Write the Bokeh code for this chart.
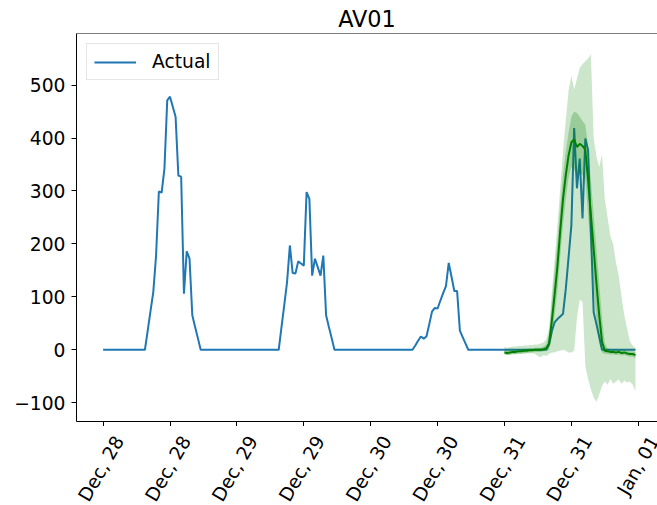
import math
import pandas as pd
from bokeh.plotting import figure
from bokeh.layouts import column
from bokeh.models import (Range1d, DatetimeAxis, FixedTicker,
                          Legend, LegendItem, Span, ColumnDataSource)
from bokeh.core.properties import value
from bokeh.embed import file_html
from bokeh.resources import INLINE

# ---------------- data (30-minute steps) ----------------
actual_start = "2022-12-28 00:00"
forecast_start = "2022-12-31 00:00"
step = "30min"

actual_dec28 = [0, 0, 0, 0, 0, 0, 0, 0, 0, 0, 0, 0, 0, 0, 0, 0,
                36, 73, 109, 178, 299, 297, 342, 471, 478, 459, 440, 329, 327, 106, 186, 172, 65, 43, 22,
                0, 0, 0, 0, 0, 0, 0, 0, 0, 0, 0, 0, 0]
actual_dec29 = [0, 0, 0, 0, 0, 0, 0, 0, 0, 0, 0, 0, 0, 0, 0, 0,
                43, 85, 128, 197, 145, 144, 167, 163, 159, 298, 285, 140, 172, 156, 140, 178, 65, 43, 22,
                0, 0, 0, 0, 0, 0, 0, 0, 0, 0, 0, 0, 0]
actual_dec30 = [0, 0, 0, 0, 0, 0, 0, 0, 0, 0, 0, 0, 0, 0, 0, 0,
                8, 17, 25, 21, 25, 48, 72, 79, 78, 93, 107, 120, 164, 138, 111, 111, 36, 24, 12,
                0, 0, 0, 0, 0, 0, 0, 0, 0, 0, 0, 0, 0]
actual_dec31 = [0, 0, 0, 0, 0, 0, 0, 0, 0, 0, 0, 0, 0, 0, 0, 0,
                10, 35, 52, 58, 63, 68, 115, 175, 235, 419, 305, 361, 248, 399, 377, 224, 71, 48, 24,
                0, 0, 0, 0, 0, 0, 0, 0, 0, 0, 0, 0, 0]

forecast_median = [-5, -6, -5, -4, -4, -3, -3, -2, -2, -1, -1, 0, 0, 0, 1, 3,
                   12, 55, 105, 158, 225, 285, 330, 367, 392, 397, 383, 389, 385, 378,
                   320, 255, 190, 125, 65, 15, -2, -3, -4, -4, -5, -4, -6, -5, -7, -8, -8, -10]
inner_high = [-1, -2, -1, 0, 0, 1, 1, 2, 2, 3, 3, 4, 4, 4, 6, 10,
              30, 90, 150, 205, 270, 330, 375, 410, 440, 450, 447, 440, 432, 425,
              385, 320, 255, 190, 125, 60, 12, 3, 1, 0, 0, 0, -1, -1, -2, -3, -3, -4]
inner_low = [-9, -10, -9, -8, -8, -7, -7, -6, -6, -5, -5, -4, -4, -4, -3, -2,
             0, 25, 65, 110, 175, 235, 285, 325, 345, 340, 330, 335, 330, 320,
             255, 185, 120, 55, 12, -5, -8, -8, -9, -9, -10, -9, -11, -10, -12, -13, -13, -16]
outer_high = [5, 4, 5, 6, 6, 7, 7, 8, 8, 9, 9, 10, 10, 12, 14, 20,
              40, 110, 170, 235, 305, 375, 435, 490, 518, 492, 512, 532, 540, 545,
              550, 558, 400, 365, 345, 370, 285, 250, 215, 200, 165, 140, 100, 65, 40, 15, 8, 3]
outer_low = [-8, -10, -10, -9, -9, -8, -8, -8, -7, -7, -6, -8, -12, -14, -10, -12,
             -8, -5, -5, -3, -2, 0, -2, -5, -5, -2, 60, 95, 90, -30,
             -55, -75, -90, -98, -85, -68, -60, -66, -55, -64, -60, -56, -64, -58, -62, -60, -66, -78]

tick_dates = ["2022-12-28 00:00", "2022-12-28 12:00", "2022-12-29 00:00", "2022-12-29 12:00",
              "2022-12-30 00:00", "2022-12-30 12:00", "2022-12-31 00:00", "2022-12-31 12:00",
              "2023-01-01 00:00"]
tick_labels = ["Dec, 28", "Dec, 28", "Dec, 29", "Dec, 29", "Dec, 30", "Dec, 30",
               "Dec, 31", "Dec, 31", "Jan, 01"]
y_ticks = [-100, 0, 100, 200, 300, 400, 500]

# ---------------- build ----------------
actual = actual_dec28 + actual_dec29 + actual_dec30 + actual_dec31
t_actual = pd.date_range(actual_start, periods=len(actual), freq=step)
t_fc = pd.date_range(forecast_start, periods=len(forecast_median), freq=step)

src_a = ColumnDataSource(dict(t=t_actual, y=actual))
src_f = ColumnDataSource(dict(t=t_fc, y=forecast_median, il=inner_low, ih=inner_high,
                              ol=outer_low, oh=outer_high))

HOUR = 3600 * 1000.0
t0 = pd.Timestamp(actual_start).value / 1e6
x_start = t0 - 4.775 * HOUR
x_end = t0 + 99.45 * HOUR
y_start, y_end = -135.5, 597.4

tick_ms = [pd.Timestamp(d).value / 1e6 for d in tick_dates]

FONT = "DejaVu Sans"
FS = "18.7px"
W = 657
LEFT = 76
TOP_H = 426
BOT_H = 505 - TOP_H

x_range = Range1d(x_start, x_end)

p = figure(width=W, height=TOP_H, x_axis_location=None,
           x_range=x_range, y_range=Range1d(y_start, y_end),
           output_backend="svg", toolbar_location=None,
           min_border_left=LEFT, min_border_right=0, min_border_top=33, min_border_bottom=5)
p.outline_line_color = None
p.grid.visible = False
p.background_fill_color = "white"
p.border_fill_color = "white"

p.title.text = "AV01"
p.title.align = "center"
p.title.text_font = FONT
p.title.text_font_size = "22.4px"
p.title.text_font_style = "normal"
p.title.text_color = "black"
p.title.standoff = 4

# x axis: tick marks only (placed as minor ticks so no empty label texts are created)
xa = DatetimeAxis(ticker=FixedTicker(ticks=[], minor_ticks=tick_ms))
xa.major_tick_out = 0
xa.major_tick_in = 0
xa.minor_tick_out = 5
xa.minor_tick_in = 0
xa.minor_tick_line_color = "black"
xa.minor_tick_line_width = 1
xa.axis_line_color = "black"
p.add_layout(xa, "below")

ya = p.yaxis[0]
ya.ticker = FixedTicker(ticks=y_ticks)
ya.major_label_overrides = {-100: "\u2212100"}
ya.major_label_text_font = FONT
ya.major_label_text_font_size = FS
ya.major_label_text_color = "black"
ya.major_tick_out = 5
ya.major_tick_in = 0
ya.minor_tick_out = 0
ya.minor_tick_in = 0
ya.major_label_standoff = 6
ya.axis_line_color = "black"
ya.major_tick_line_color = "black"

p.add_layout(Span(location=y_end, dimension="width", line_color="black", line_width=1))

blue = p.line("t", "y", source=src_a, line_color="#1f77b4", line_width=2)
p.varea(x="t", y1="ol", y2="oh", source=src_f, fill_color="green", fill_alpha=0.2)
p.varea(x="t", y1="il", y2="ih", source=src_f, fill_color="green", fill_alpha=0.25)
p.line("t", "y", source=src_f, line_color="green", line_width=2)

legend = Legend(items=[LegendItem(label="Actual", renderers=[blue])], location="top_left")
legend.label_text_font = FONT
legend.label_text_font_size = FS
legend.label_text_color = "black"
legend.glyph_width = 42
legend.glyph_height = 20
legend.label_standoff = 16
legend.padding = 7
legend.margin = 10
legend.spacing = 0
legend.border_line_color = "#cccccc"
legend.border_line_width = 1
legend.background_fill_alpha = 0.8
p.add_layout(legend)

# strip under the plot carrying the rotated date labels (shares the plot's time scale)
q = figure(width=W, height=BOT_H, x_range=x_range,
           y_range=Range1d(0, BOT_H), x_axis_location=None, y_axis_location=None,
           output_backend="svg", toolbar_location=None,
           min_border_left=LEFT, min_border_right=0, min_border_top=0, min_border_bottom=0)
q.outline_line_color = None
q.grid.visible = False
q.background_fill_color = "white"
q.border_fill_color = "white"
src_t = ColumnDataSource(dict(t=tick_ms, y=[BOT_H - 11] * len(tick_ms), lab=tick_labels))
q.text(x="t", y="y", text="lab", source=src_t, angle=math.pi / 3,
       text_align="right", text_baseline="middle", x_offset=16,
       text_font=value(FONT), text_font_size=value(FS), text_color="black")

layout = column(p, q, spacing=0)
open("out.html", "w").write(file_html(layout, INLINE))
